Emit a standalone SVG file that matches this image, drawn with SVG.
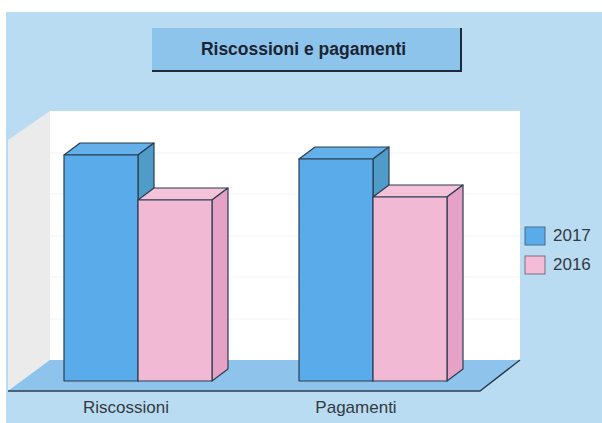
<svg xmlns="http://www.w3.org/2000/svg" width="602" height="423" viewBox="0 0 602 423">
<style>
.bar{stroke:#2b3d4f;stroke-width:1.2;stroke-linejoin:round}
.b-front{fill:#5aabea}.b-top{fill:#63b0ea}.b-side{fill:#4f9cc8}
.p-front{fill:#f2b9d4}.p-top{fill:#f4c3da}.p-side{fill:#e6a2c6}
.lbl{font-family:"Liberation Sans",Arial,sans-serif;font-size:17px;fill:#333a40}
.grid{stroke:#f1f3f5;stroke-width:1}
</style>
<rect x="0" y="0" width="602" height="423" fill="#ffffff"/>
<rect x="6" y="12" width="596" height="411" fill="#badcf3"/>
<g id="title">
<rect x="152" y="28" width="309" height="43" fill="#8dc4ec"/>
<polyline points="152,71 461,71 461,28" fill="none" stroke="#1e2a38" stroke-width="2"/>
<text x="303.5" y="55" text-anchor="middle" font-family="'Liberation Sans',Arial,sans-serif" font-size="17.5" font-weight="bold" fill="#1c2433">Riscossioni e pagamenti</text>
</g>
<g id="walls">
<rect x="50" y="111" width="470" height="249" fill="#ffffff"/>
<line class="grid" x1="50" y1="153" x2="520" y2="153"/>
<line class="grid" x1="50" y1="194" x2="520" y2="194"/>
<line class="grid" x1="50" y1="236" x2="520" y2="236"/>
<line class="grid" x1="50" y1="277" x2="520" y2="277"/>
<line class="grid" x1="50" y1="319" x2="520" y2="319"/>
<polygon points="8,140 50,111 50,360 8,391" fill="#ebebeb"/>
<polygon points="8,391 50,360 520,360 480,391" fill="#8ec4ec"/>
<polyline points="8,391 480,391 520,360" fill="none" stroke="#2b3d4f" stroke-width="1.4"/>
</g>
<g id="bar-riscossioni-2017" class="bar">
<polygon class="b-top" points="64,155 80,143 154,143 138,155"/>
<polygon class="b-side" points="138,155 154,143 154,369 138,381"/>
<rect class="b-front" x="64" y="155" width="74" height="226"/>
</g>
<g id="bar-riscossioni-2016" class="bar">
<polygon class="p-top" points="138,200 154,188 228,188 212,200"/>
<polygon class="p-side" points="212,200 228,188 228,369 212,381"/>
<rect class="p-front" x="138" y="200" width="74" height="181"/>
</g>
<g id="bar-pagamenti-2017" class="bar">
<polygon class="b-top" points="299,159 315,147 389,147 373,159"/>
<polygon class="b-side" points="373,159 389,147 389,369 373,381"/>
<rect class="b-front" x="299" y="159" width="74" height="222"/>
</g>
<g id="bar-pagamenti-2016" class="bar">
<polygon class="p-top" points="373,197 389,185 463,185 447,197"/>
<polygon class="p-side" points="447,197 463,185 463,369 447,381"/>
<rect class="p-front" x="373" y="197" width="74" height="184"/>
</g>
<g id="axis-labels">
<text class="lbl" x="126" y="413" text-anchor="middle">Riscossioni</text>
<text class="lbl" x="356" y="413" text-anchor="middle">Pagamenti</text>
</g>
<g id="legend">
<rect x="525" y="227" width="20" height="18" fill="#5aabea" stroke="#4a6a86" stroke-width="1"/>
<text class="lbl" x="553" y="241">2017</text>
<rect x="525" y="256" width="20" height="18" fill="#f4bcd6" stroke="#7a7080" stroke-width="1"/>
<text class="lbl" x="553" y="270">2016</text>
</g>
</svg>
